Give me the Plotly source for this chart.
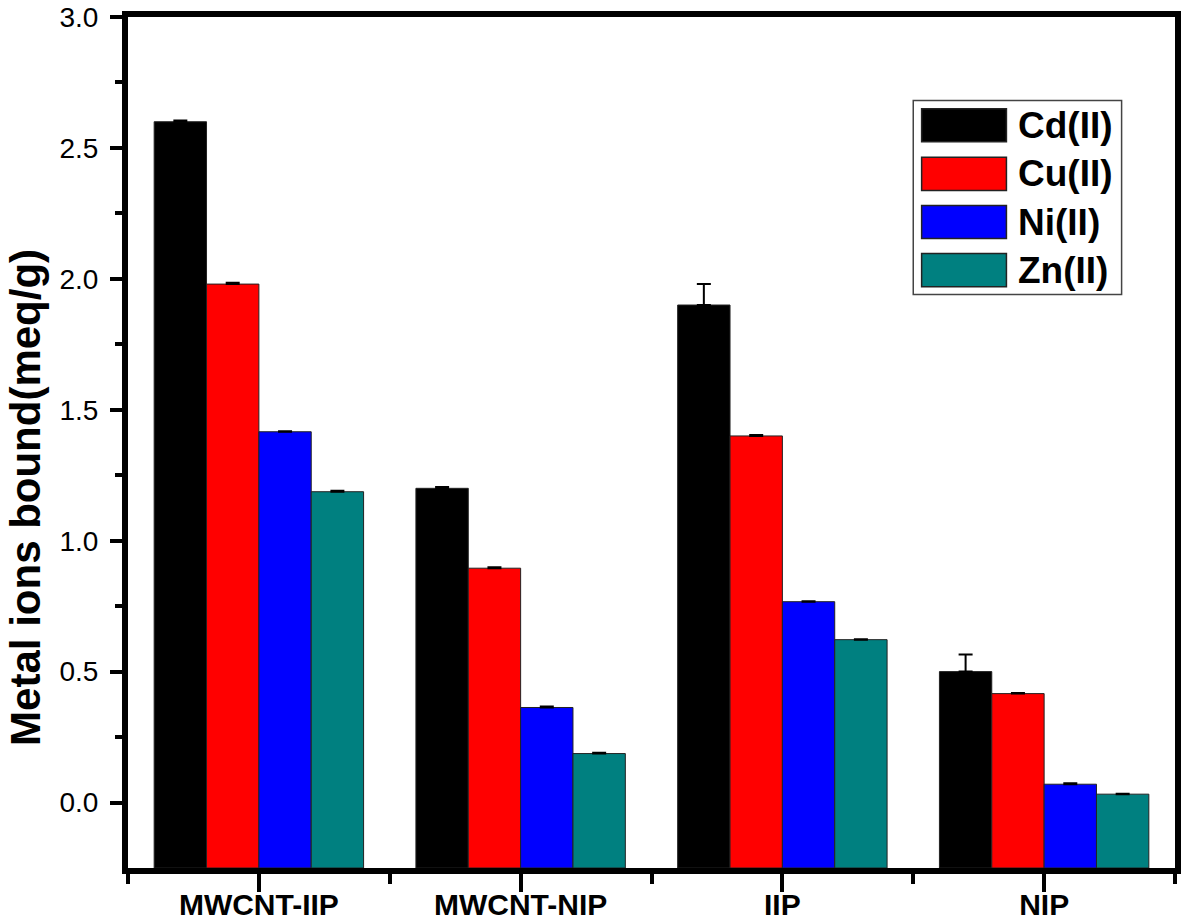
import plotly.graph_objects as go

categories = ["MWCNT-IIP", "MWCNT-NIP", "IIP", "NIP"]
series_names = ["Cd(II)", "Cu(II)", "Ni(II)", "Zn(II)"]
cd_values = [2.60, 1.20, 1.90, 0.50]
cu_values = [1.98, 0.895, 1.40, 0.416]
ni_values = [1.416, 0.363, 0.767, 0.070]
zn_values = [1.187, 0.187, 0.622, 0.032]
cd_errors = [0.005, 0.005, 0.08, 0.065]
cu_errors = [0.005, 0.004, 0.004, 0.002]
ni_errors = [0.002, 0.004, 0.002, 0.004]
zn_errors = [0.004, 0.003, 0.002, 0.002]
y_tick_values = [0.0, 0.5, 1.0, 1.5, 2.0, 2.5, 3.0]
y_title = "Metal ions bound(meq/g)"

colors = ["#000000", "#FF0000", "#0000FF", "#008080"]
Y_MIN, Y_MAX = -0.25, 3.0
FONT = "Liberation Sans, Arial, sans-serif"

values = [cd_values, cu_values, ni_values, zn_values]
errors = [cd_errors, cu_errors, ni_errors, zn_errors]
positions = list(range(len(categories)))

fig = go.Figure()
for name, vals, errs, col in zip(series_names, values, errors, colors):
    fig.add_trace(go.Bar(
        name=name,
        x=positions,
        y=[v - Y_MIN for v in vals],
        base=Y_MIN,
        marker=dict(color=col, line=dict(color="#222222", width=1)),
        error_y=dict(type="data", symmetric=False, array=errs,
                     arrayminus=[0] * len(errs), color="black",
                     thickness=2, width=7),
        showlegend=False,
    ))

fig.update_layout(
    barmode="group", bargap=0.2, bargroupgap=0,
    width=1181, height=922,
    margin=dict(l=128, r=6, t=17, b=54),
    plot_bgcolor="white", paper_bgcolor="white",
    font=dict(family=FONT, color="black"),
)
fig.update_xaxes(
    range=[-0.5, 3.5], tickmode="array", tickvals=positions, ticktext=categories,
    tickfont=dict(size=30, family=FONT, color="black", weight="bold"),
    ticks="outside", ticklen=18, tickwidth=4, tickcolor="black",
    minor=dict(tickmode="array", tickvals=[p + 0.5 for p in [-1] + positions],
               ticks="outside", ticklen=10, tickwidth=4, tickcolor="black"),
    showline=True, linewidth=6, linecolor="black", mirror=True,
    showgrid=False, zeroline=False, automargin=False, ticklabelstandoff=-13,
)
fig.update_yaxes(
    range=[Y_MIN, Y_MAX], tickmode="array", tickvals=y_tick_values,
    ticktext=[f"{v:.1f}" for v in y_tick_values],
    tickfont=dict(size=28, family=FONT, color="black"),
    ticks="outside", ticklen=12, tickwidth=4, tickcolor="black",
    minor=dict(tickmode="array",
               tickvals=[v + 0.25 for v in y_tick_values[:-1]],
               ticks="outside", ticklen=7, tickwidth=4, tickcolor="black"),
    showline=True, linewidth=6, linecolor="black", mirror=True,
    showgrid=False, zeroline=False, ticklabelstandoff=6, automargin=False,
)

fig.add_annotation(
    text=y_title, textangle=-90, xref="paper", yref="paper",
    x=-0.0975, y=0.436, xanchor="center", yanchor="middle", showarrow=False,
    font=dict(size=42, family=FONT, color="black", weight="bold"),
)

# legend box
box_x0, box_x1, box_y0, box_y1 = 0.750, 0.949, 0.674, 0.902
fig.add_shape(type="rect", xref="paper", yref="paper",
              x0=box_x0, x1=box_x1, y0=box_y0, y1=box_y1,
              line=dict(color="#444444", width=1.5), fillcolor="white")
row_centers = [0.8728, 0.8157, 0.7591, 0.7026]
sw_h = 0.0389
for name, col, yc in zip(series_names, colors, row_centers):
    fig.add_shape(type="rect", xref="paper", yref="paper",
                  x0=0.758, x1=0.839, y0=yc - sw_h / 2, y1=yc + sw_h / 2,
                  line=dict(color="#222222", width=1.5), fillcolor=col)
    fig.add_annotation(text=name, xref="paper", yref="paper", x=0.848, y=yc,
                       xanchor="left", yanchor="middle", showarrow=False,
                       font=dict(size=37, family=FONT, color="black", weight="bold"))

fig.write_html("out.html",
               config={"displayModeBar": False},
               post_script="document.body.style.margin='0';document.body.style.padding='0';")
